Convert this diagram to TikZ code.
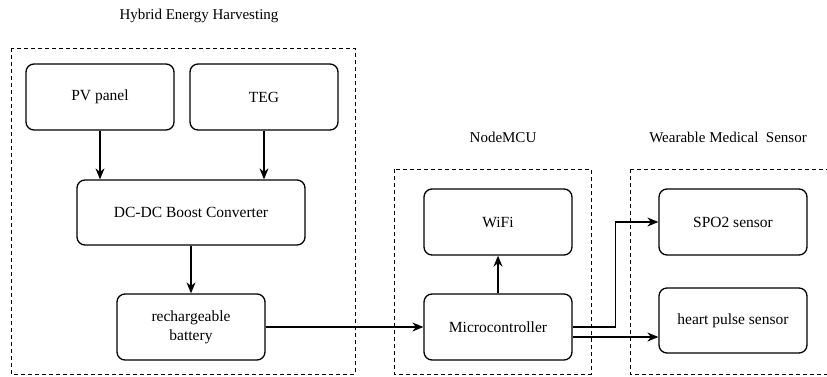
\documentclass[tikz,border=0pt]{standalone}
\usepackage{fontspec}
\setmainfont{Liberation Serif}
\usetikzlibrary{arrows.meta,positioning}

\tikzset{
  block/.style={draw, line width=1.3pt, rounded corners=8pt, minimum width=148pt, minimum height=66pt, align=center, inner sep=2pt},
  frame/.style={draw, line width=0.9pt, dash pattern=on 4pt off 3pt},
  link/.style={line width=1.3pt, ->},
  title/.style={font=\fontsize{15}{18}\selectfont}
}

\begin{document}
\begin{tikzpicture}[x=1pt, y=-1pt, >={Stealth[length=11pt,width=9pt]}, every node/.style={font=\fontsize{15.5}{19}\selectfont}]
    \useasboundingbox (0,0) rectangle (827,376);

    % Group frames
    \draw[frame] (11,48) rectangle (355,374);
    \draw[frame] (394,169) rectangle (591,374);
    \draw[frame] (630,169) rectangle (840,374);

    % Group titles
    \node[title] (tHyb) at (199,16) {Hybrid Energy Harvesting};
    \node[title] (tMcu) at (503,137) {NodeMCU};
    \node[title] (tWms) at (728,137) {Wearable Medical~~Sensor};

    % Energy harvesting blocks
    \node[block] (pv) at (100,97) {PV panel};
    \node[block] (teg) at (264,97) {TEG};
    \node[block, minimum width=228pt, minimum height=65pt] (conv) at (191,212.5) {DC-DC Boost Converter};
    \node[block] (batt) at (191,327) {rechargeable\\battery};

    % NodeMCU blocks
    \node[block] (wifi) at (498,222) {WiFi};
    \node[block] (mcu) at (498,327) {Microcontroller};

    % Sensor blocks
    \node[block] (spo) at (733,222) {SPO2 sensor};
    \node[block, minimum height=65pt] (hps) at (733,320.5) {heart pulse sensor};

    % Connectors
    \draw[link] (pv) -- (pv |- conv.north);
    \draw[link] (teg) -- (teg |- conv.north);
    \draw[link] (conv) -- (batt);
    \draw[link] (batt.east) -- (batt.east -| mcu.west);
    \draw[link] (mcu) -- (wifi);
    \coordinate (mOut) at ([yshift=-10pt]mcu.east);
    \draw[link] (mcu.east) -- ++(43,0) |- (spo.west);
    \draw[link] (mOut) -- (mOut -| hps.west);
\end{tikzpicture}
\end{document}
